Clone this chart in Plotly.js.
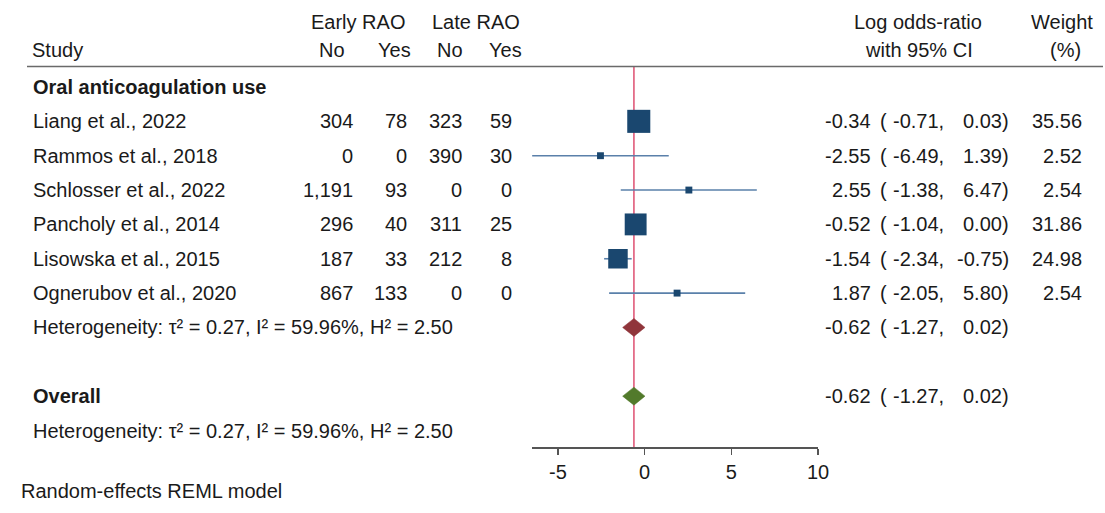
<!DOCTYPE html>
<html>
<head>
<meta charset="utf-8">
<script src="https://cdn.plot.ly/plotly-3.0.1.min.js"></script>
<style>html,body{margin:0;padding:0;background:#fff;}#chart{width:1105px;height:513px;}</style>
</head>
<body>
<div id="chart"></div>
<script>
// ---- data ----
const groupName = "Oral anticoagulation use";
const studies = ["Liang et al., 2022", "Rammos et al., 2018", "Schlosser et al., 2022",
                 "Pancholy et al., 2014", "Lisowska et al., 2015", "Ognerubov et al., 2020"];
const earlyNo  = [304, 0, 1191, 296, 187, 867];
const earlyYes = [78, 0, 93, 40, 33, 133];
const lateNo   = [323, 390, 0, 311, 212, 0];
const lateYes  = [59, 30, 0, 25, 8, 0];
const estimate = [-0.34, -2.55, 2.55, -0.52, -1.54, 1.87];
const ciLow    = [-0.71, -6.49, -1.38, -1.04, -2.34, -2.05];
const ciHigh   = [0.03, 1.39, 6.47, 0.00, -0.75, 5.80];
const weights  = [35.56, 2.52, 2.54, 31.86, 24.98, 2.54];
const subgroupEst = [-0.62, -1.27, 0.02];   // estimate, low, high
const overallEst  = [-0.62, -1.27, 0.02];
const heterogeneity = {tau2: 0.27, I2: 59.96, H2: 2.50};
const xTicks = [-5, 0, 5, 10];

// ---- layout helpers (pixel geometry) ----
const L = 532, R = 818, T = 67, B = 447, ROW0 = 87, ROWH = 34.35;
const px = p => (p - L) / (R - L);
const py = p => (B - p) / (B - T);
const rowPix = r => ROW0 + (r - 1) * ROWH;
const rowOf = p => 1 + (p - ROW0) / ROWH;
const studyRows = studies.map((_, i) => i + 2);
const hetRow = 8, overallRow = 10, overallHetRow = 11;

const FONT = "Arial, 'Liberation Sans', Helvetica, sans-serif";
const FS = 20;
const TXT = "#1a1a1a";
const navy = "#1a476f";

const annotations = [];
function txtP(text, xPix, yPix, anchor) {
  annotations.push({
    text: text, xref: "paper", yref: "paper", x: px(xPix), y: py(yPix),
    xanchor: anchor, yanchor: "middle", showarrow: false,
    font: {family: FONT, size: FS, color: TXT}
  });
}
const txt = (text, xPix, row, anchor) => txtP(text, xPix, rowPix(row), anchor);
const fmtInt = v => v.toLocaleString("en-US");
const f2 = v => v.toFixed(2);

// headers
const h1 = 22, h2 = 50;
txtP("Early RAO", 358, h1, "center");
txtP("Late RAO", 476, h1, "center");
txtP("Study", 30, h2, "left");
txtP("No", 332, h2, "center");
txtP("Yes", 394.5, h2, "center");
txtP("No", 450, h2, "center");
txtP("Yes", 505.5, h2, "center");
txtP("Log odds-ratio", 918, h1, "center");
txtP("with 95% CI", 919, h2, "center");
txtP("Weight", 1062, h1, "center");
txtP("(%)", 1065, h2, "center");

// group label
txt("<b>" + groupName + "</b>", 31, 1, "left");

function ciCols(e, lo, hi, r) {
  txt(f2(e), 873, r, "right");
  txt("(", 878, r, "left");
  txt(f2(lo) + ",", 946, r, "right");
  txt(f2(hi) + ")", 1011, r, "right");
}

// study rows
studies.forEach((s, i) => {
  const r = studyRows[i];
  txt(s, 31, r, "left");
  txt(fmtInt(earlyNo[i]), 355, r, "right");
  txt(fmtInt(earlyYes[i]), 409, r, "right");
  txt(fmtInt(lateNo[i]), 464, r, "right");
  txt(fmtInt(lateYes[i]), 514, r, "right");
  ciCols(estimate[i], ciLow[i], ciHigh[i], r);
  txt(f2(weights[i]), 1084, r, "right");
});

const hetText = "Heterogeneity: τ² = " + f2(heterogeneity.tau2) +
  ", I² = " + f2(heterogeneity.I2) + "%, H² = " + f2(heterogeneity.H2);
txt(hetText, 31, hetRow, "left");
ciCols(subgroupEst[0], subgroupEst[1], subgroupEst[2], hetRow);

txt("<b>Overall</b>", 31, overallRow, "left");
ciCols(overallEst[0], overallEst[1], overallEst[2], overallRow);
txt(hetText, 31, overallHetRow, "left");

txtP("Random-effects REML model", 19, 491, "left");

// ---- traces ----
const ciX = [], ciY = [];
studies.forEach((_, i) => {
  ciX.push(ciLow[i], ciHigh[i], null);
  ciY.push(studyRows[i], studyRows[i], null);
});
const ciTrace = {
  type: "scatter", mode: "lines", x: ciX, y: ciY,
  line: {color: "#5a80aa", width: 1.6}, hoverinfo: "skip", cliponaxis: false
};
const boxTrace = {
  type: "scatter", mode: "markers", x: estimate, y: studyRows,
  marker: {symbol: "square", color: navy, opacity: 1,
           size: weights.map(w => 3.7 * Math.sqrt(w) + 1),
           line: {width: 0}},
  cliponaxis: false
};
const dh = 9 / ROWH;
function diamond(e, row, color) {
  return {
    type: "scatter", mode: "lines", fill: "toself", fillcolor: color,
    x: [e[1], e[0], e[2], e[0], e[1]],
    y: [row, row - dh, row, row + dh, row],
    line: {color: color, width: 0.5}, cliponaxis: false
  };
}
const data = [ciTrace, boxTrace,
  diamond(subgroupEst, hetRow, "#90353b"),
  diamond(overallEst, overallRow, "#527a2b")];

const layout = {
  width: 1105, height: 513,
  margin: {l: L, r: 1105 - R, t: T, b: 513 - B, pad: 0},
  paper_bgcolor: "#ffffff", plot_bgcolor: "#ffffff",
  showlegend: false,
  xaxis: {
    range: [-6.5, 10], tickvals: xTicks, ticktext: xTicks.map(String),
    showgrid: false, zeroline: false, showline: true,
    linecolor: "#555555", linewidth: 1.5,
    ticks: "outside", ticklen: 6, tickwidth: 1.5, tickcolor: "#555555",
    tickfont: {family: FONT, size: FS, color: TXT}, fixedrange: true
  },
  yaxis: {
    range: [rowOf(B), rowOf(T)], visible: false, showgrid: false,
    zeroline: false, fixedrange: true
  },
  shapes: [
    {type: "line", xref: "x", yref: "paper", x0: overallEst[0], x1: overallEst[0],
     y0: 0, y1: 1, line: {color: "#e05a7a", width: 1.6}, layer: "below"},
    {type: "line", xref: "paper", yref: "paper", x0: px(27), x1: px(1103),
     y0: py(66.5), y1: py(66.5),
     line: {color: "#6a6a6a", width: 1.6}}
  ],
  annotations: annotations
};

Plotly.newPlot("chart", data, layout, {displayModeBar: false, staticPlot: true});
</script>
</body>
</html>
